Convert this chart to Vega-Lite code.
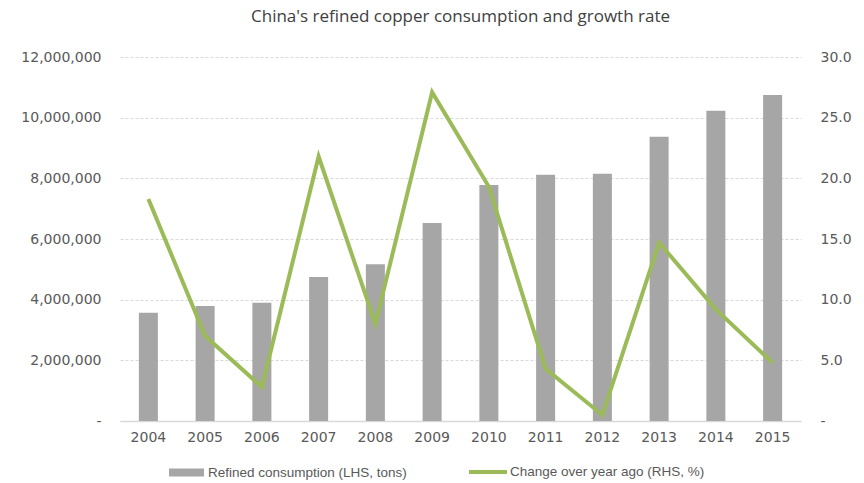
{
  "$schema": "https://vega.github.io/schema/vega-lite/v6.json",
  "width": 681,
  "height": 364,
  "autosize": {"type": "none"},
  "padding": {"left": 120, "top": 57, "right": 63, "bottom": 62},
  "background": "white",
  "title": {
    "text": "China's refined copper consumption and growth rate",
    "font": "Open Sans",
    "fontSize": 17,
    "fontWeight": "normal",
    "color": "#404040",
    "anchor": "middle",
    "offset": 24
  },
  "config": {
    "view": {"stroke": null},
    "axis": {"labelFont": "DejaVu Sans", "labelFontSize": 13, "labelColor": "#595959", "ticks": false, "title": null, "labelOverlap": false}
  },
  "data": {
    "values": [
      {"year": "2004", "consumption": 3570000, "growth": 18.3},
      {"year": "2005", "consumption": 3790000, "growth": 7.0},
      {"year": "2006", "consumption": 3900000, "growth": 2.8},
      {"year": "2007", "consumption": 4750000, "growth": 21.8},
      {"year": "2008", "consumption": 5170000, "growth": 8.0},
      {"year": "2009", "consumption": 6530000, "growth": 27.1},
      {"year": "2010", "consumption": 7780000, "growth": 19.3},
      {"year": "2011", "consumption": 8120000, "growth": 4.3},
      {"year": "2012", "consumption": 8150000, "growth": 0.5},
      {"year": "2013", "consumption": 9370000, "growth": 14.7},
      {"year": "2014", "consumption": 10230000, "growth": 9.2},
      {"year": "2015", "consumption": 10750000, "growth": 4.8}
    ]
  },
  "encoding": {
    "x": {
      "field": "year",
      "type": "ordinal",
      "scale": {"paddingInner": 0.665, "paddingOuter": 0.3325},
      "axis": {"labelAngle": 0, "labelPadding": 9, "labelFontSize": 14, "domainColor": "#d9d9d9", "domainWidth": 1.5, "grid": false}
    }
  },
  "layer": [
    {
      "mark": {"type": "bar"},
      "encoding": {
        "y": {
          "field": "consumption",
          "type": "quantitative",
          "scale": {"domain": [0, 12000000]},
          "axis": {
            "values": [0, 2000000, 4000000, 6000000, 8000000, 10000000, 12000000],
            "labelExpr": "datum.value == 0 ? '-' : format(datum.value, ',')",
            "labelPadding": 19,
            "domain": false,
            "grid": true,
            "gridColor": "#d9d9d9",
            "gridDash": [3, 2],
            "labelFontSize": 14
          }
        },
        "fill": {
          "datum": "Refined consumption (LHS, tons)",
          "scale": {"range": ["#a6a6a6"]},
          "legend": {
            "orient": "none",
            "legendX": 49,
            "legendY": 398,
            "title": null,
            "symbolType": "M-1,-0.23H1V0.23H-1Z",
            "symbolSize": 1225,
            "symbolStrokeWidth": 0,
            "labelFont": "Liberation Sans",
            "labelFontSize": 13.5,
            "labelColor": "#595959",
            "labelOffset": 4,
            "labelLimit": 400
          }
        }
      }
    },
    {
      "mark": {"type": "line", "strokeWidth": 4, "strokeJoin": "miter"},
      "encoding": {
        "y": {
          "field": "growth",
          "type": "quantitative",
          "scale": {"domain": [0, 30]},
          "axis": {
            "orient": "right",
            "values": [0, 5, 10, 15, 20, 25, 30],
            "labelExpr": "datum.value == 0 ? '-' : format(datum.value, '.1f')",
            "labelPadding": 19,
            "domain": false,
            "grid": false,
            "labelFontSize": 14
          }
        },
        "stroke": {
          "datum": "Change over year ago (RHS, %)",
          "scale": {"range": ["#9bbb59"]},
          "legend": {
            "orient": "none",
            "legendX": 347,
            "legendY": 394,
            "title": null,
            "symbolType": "stroke",
            "symbolSize": 1444,
            "symbolStrokeWidth": 4,
            "labelFont": "Liberation Sans",
            "labelFontSize": 13.5,
            "labelColor": "#595959",
            "labelOffset": 1,
            "labelLimit": 400
          }
        }
      }
    }
  ],
  "resolve": {"scale": {"y": "independent", "fill": "independent", "stroke": "independent"}}
}
